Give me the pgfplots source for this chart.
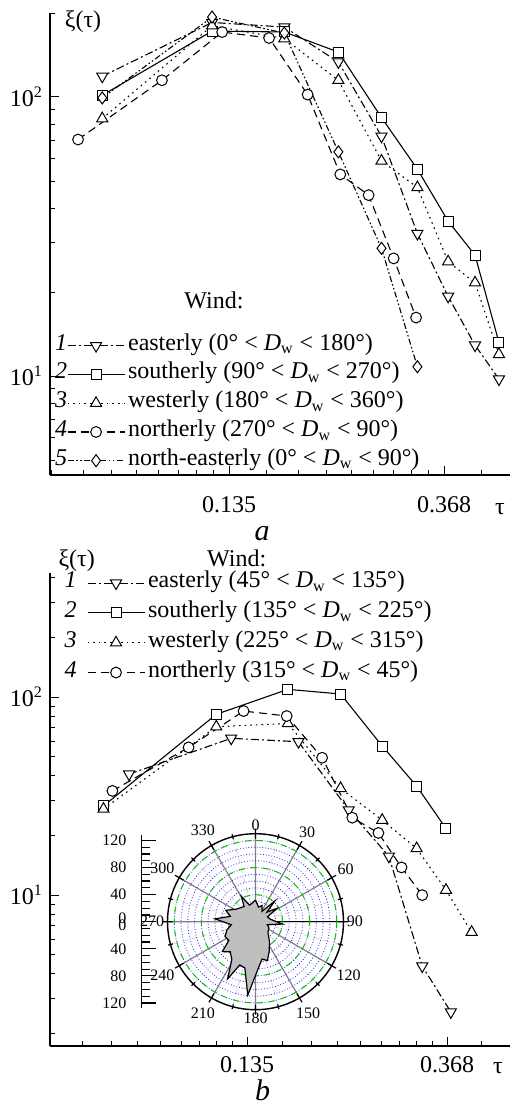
\documentclass[border=0pt]{standalone}
\usepackage{fontspec}
\setmainfont{Liberation Serif}
\usepackage{pgfplots}
\usepackage{pgfplotstable}
\pgfplotsset{compat=1.18}
\usepgfplotslibrary{polar}

\definecolor{rosegray}{RGB}{190,190,190}
\definecolor{ringgreen}{RGB}{0,200,0}
\definecolor{ringblue}{RGB}{30,30,255}

\newcommand\fs{\fontsize{12}{14}\selectfont}
\newcommand\fsmall{\fontsize{8}{9}\selectfont}
\newcommand\Dw{\textit{D}\textsubscript{w}}
\newcommand\zerozero{\raisebox{1.9pt}{0}\llap{\raisebox{-1.9pt}{0}}}

% legend sample: short line with the mark in its middle
\pgfplotsset{
  legend image code/.code={%
    \draw[mark repeat=2, mark phase=2, #1] plot coordinates {(0pt,0pt) (14.25pt,0pt) (28.5pt,0pt)};
  },
}

% open marks: filled white so the lines stop at their outline
\tikzset{
  s1/.style={black, line width=0.55pt, dash pattern=on 4pt off 1.5pt on 1pt off 1.5pt,
    mark=triangle*, mark size=3.2pt, mark options={solid, draw=black, fill=white, rotate=180, line width=0.5pt}},
  s2/.style={black, line width=0.55pt, solid,
    mark=square*, mark size=2.5pt, mark options={solid, draw=black, fill=white, line width=0.5pt}},
  s3/.style={black, line width=0.55pt, dash pattern=on 0.8pt off 2pt,
    mark=triangle*, mark size=3.2pt, mark options={solid, draw=black, fill=white, line width=0.5pt}},
  s4/.style={black, line width=0.55pt, dash pattern=on 4pt off 2.5pt,
    mark=*, mark size=2.7pt, mark options={solid, draw=black, fill=white, line width=0.5pt}},
  s5/.style={black, line width=0.55pt, dash pattern=on 3pt off 1.2pt on 0.8pt off 1.2pt on 0.8pt off 1.2pt,
    mark=diamond*, mark size=3pt, mark options={solid, draw=black, fill=white, line width=0.5pt}},
}

% panel a: tau, xi
\pgfplotstableread{
t xi
0.075 118.6
0.125 185
0.175 178.1
0.225 133.5
0.275 72.3
0.325 32.4
0.375 19.3
0.425 12.9
0.475 9.75
}\aEast
\pgfplotstableread{
t xi
0.075 101.4
0.125 172.3
0.175 171
0.225 144.9
0.275 84.4
0.325 55.1
0.375 35.9
0.425 27.1
0.475 13.2
}\aSouth
\pgfplotstableread{
t xi
0.075 83.7
0.125 180
0.175 161.9
0.225 114.8
0.275 59.0
0.325 47.4
0.375 25.7
0.425 21.6
0.475 11.96
}\aWest
\pgfplotstableread{
t xi
0.067 70.4
0.099 114.8
0.131 170.9
0.163 162.7
0.195 102.0
0.227 52.8
0.259 44.5
0.291 26.4
0.323 16.2
}\aNorth
\pgfplotstableread{
t xi
0.075 99.2
0.125 193.4
0.175 169.5
0.225 63.6
0.275 28.7
0.325 10.8
}\aNorthEast

% panel b
\pgfplotstableread{
t xi
0.075 40.8
0.125 61.9
0.175 59.5
0.225 26.9
0.275 15.7
0.325 4.38
0.375 2.57
}\bEast
\pgfplotstableread{
t xi
0.066 28.2
0.116 81.8
0.166 109.4
0.216 103.6
0.266 56.6
0.316 35.5
0.366 21.7
}\bSouth
\pgfplotstableread{
t xi
0.066 27.2
0.116 70.8
0.166 73.6
0.216 34.6
0.266 23.9
0.316 17.2
0.366 10.6
0.416 6.5
}\bWest
\pgfplotstableread{
t xi
0.069 33.6
0.101 55.7
0.133 85.0
0.165 80.2
0.197 49.4
0.229 24.6
0.261 20.6
0.293 13.8
0.325 10.0
}\bNorth

% wind rose: azimuth (deg, clockwise from north), frequency
\pgfplotstableread{
az r
0 32
12 22
22 26
32 18
43 42
50 22
58 37
68 19
80 22
95 40
104 18
115 22
130 24
145 36
155 48
163 60
170 56
177 70
186 109
193 70
200 68
206 94
212 66
220 58
228 66
235 48
244 50
254 44
263 36
274 60
282 38
291 47
303 34
314 30
323 28
331 43
340 26
350 28
360 32
}\rose

\begin{document}
\begin{tikzpicture}[font=\fs]
\useasboundingbox (0pt,0pt) rectangle (255pt,-552pt);

% ---------------- panel a ----------------
% abscissa: natural logarithm of tau
\begin{axis}[
  at={(25pt,-237.5pt)}, anchor=south west,
  scale only axis, width=230pt, height=231pt,
  ymode=log,
  xmin=-2.8336, xmax=-0.6931, ymin=4.42, ymax=200,
  axis x line*=bottom, axis y line*=left,
  tick align=inside,
  xtick={-2,-1}, xticklabels={0.135,0.368},
  minor xtick={-2.8253,-2.6766,-2.5470,-2.4325,-2.3297,-2.2365,-2.1513,-2.0728,-1.8253,-1.6766,-1.5471,-1.4325,-1.3297,-1.2366,-1.1513,-1.0728,-0.8253},
  ytick={10,100}, yticklabels={10\textsuperscript{1},10\textsuperscript{2}},
  minor ytick={5,6,7,8,9,20,30,40,50,60,70,80,90,200},
  major tick length=4.7pt, minor tick length=2.5pt,
  tick style={black, line width=0.5pt},
  axis line style={line width=0.6pt},
  tick label style={font=\fs},
  xticklabel style={yshift=-7.1pt},
  clip=false,
  legend cell align=left,
  legend style={at={(0.03696,0.3026)}, anchor=north west, draw=none, fill=none,
    inner sep=0pt, outer sep=0pt, row sep=3.875pt, column sep=1.5pt,
    nodes={inner sep=0pt, text height=7.5pt, text depth=3pt}, font=\fs},
]
\addplot[s1] table[x expr={ln(\thisrow{t})}, y=xi] {\aEast};
\addlegendentry{easterly (0° < \Dw{} < 180°)}
\addplot[s2] table[x expr={ln(\thisrow{t})}, y=xi] {\aSouth};
\addlegendentry{southerly (90° < \Dw{} < 270°)}
\addplot[s3] table[x expr={ln(\thisrow{t})}, y=xi] {\aWest};
\addlegendentry{westerly (180° < \Dw{} < 360°)}
\addplot[s4] table[x expr={ln(\thisrow{t})}, y=xi] {\aNorth};
\addlegendentry{northerly (270° < \Dw{} < 90°)}
\addplot[s5] table[x expr={ln(\thisrow{t})}, y=xi] {\aNorthEast};
\addlegendentry{north-easterly (0° < \Dw{} < 90°)}
\end{axis}

\node[anchor=base, inner sep=0pt] at (41.5pt,-13.6pt) {ξ(τ)};
\node[anchor=base, inner sep=0pt] at (107pt,-154.2pt) {Wind:};
\foreach \n/\y in {1/-175.1, 2/-189.475, 3/-203.85, 4/-218.225, 5/-232.6}
  \node[anchor=base east, inner sep=0pt] at (33.8pt,\y pt) {\textit{\n}};
\node[anchor=base, inner sep=0pt] at (250pt,-257pt) {τ};
\node[anchor=base, inner sep=0pt] at (131pt,-270pt) {\fontsize{15}{17}\selectfont\textit{a}};

% ---------------- panel b ----------------
\begin{axis}[
  at={(25pt,-523pt)}, anchor=south west,
  scale only axis, width=230pt, height=236.5pt,
  ymode=log,
  xmin=-2.9857, xmax=-0.6852, ymin=1.73, ymax=423,
  axis x line*=bottom, axis y line*=left,
  tick align=inside,
  xtick={-2,-1}, xticklabels={0.135,0.368},
  minor xtick={-2.8253,-2.6766,-2.5470,-2.4325,-2.3297,-2.2365,-2.1513,-2.0728,-1.8253,-1.6766,-1.5471,-1.4325,-1.3297,-1.2366,-1.1513,-1.0728,-0.8253},
  ytick={10,100}, yticklabels={10\textsuperscript{1},10\textsuperscript{2}},
  minor ytick={2,3,4,5,6,7,8,9,20,30,40,50,60,70,80,90,200,300,400},
  major tick length=4.7pt, minor tick length=2.5pt,
  tick style={black, line width=0.5pt},
  axis line style={line width=0.6pt},
  tick label style={font=\fs},
  xticklabel style={yshift=-1.6pt},
  clip=false,
  legend cell align=left,
  legend style={at={(0.0804,1.0008)}, anchor=north west, draw=none, fill=none,
    inner sep=0pt, outer sep=0pt, row sep=4.4pt, column sep=1.5pt,
    nodes={inner sep=0pt, text height=7.5pt, text depth=3pt}, font=\fs},
]
\addplot[s1] table[x expr={ln(\thisrow{t})}, y=xi] {\bEast};
\addlegendentry{easterly (45° < \Dw{} < 135°)}
\addplot[s2] table[x expr={ln(\thisrow{t})}, y=xi] {\bSouth};
\addlegendentry{southerly (135° < \Dw{} < 225°)}
\addplot[s3] table[x expr={ln(\thisrow{t})}, y=xi] {\bWest};
\addlegendentry{westerly (225° < \Dw{} < 315°)}
\addplot[s4] table[x expr={ln(\thisrow{t})}, y=xi] {\bNorth};
\addlegendentry{northerly (315° < \Dw{} < 45°)}
\end{axis}

\node[anchor=base, inner sep=0pt] at (38.35pt,-283pt) {ξ(τ)};
\node[anchor=base, inner sep=0pt] at (118.35pt,-283pt) {Wind:};
\foreach \n/\y in {1/-293.8, 2/-308.7, 3/-323.6, 4/-338.5}
  \node[anchor=base east, inner sep=0pt] at (38.5pt,\y pt) {\textit{\n}};
\node[anchor=base, inner sep=0pt] at (249pt,-536.7pt) {τ};
\node[anchor=base, inner sep=0pt] at (131.25pt,-550pt) {\fontsize{15}{17}\selectfont\textit{b}};

% ---------------- wind rose inset ----------------
\begin{polaraxis}[
  at={(127.75pt,-460.85pt)}, anchor=center,
  scale only axis, width=88pt, height=88pt,
  xmin=0, xmax=360, ymin=0, ymax=130,
  xtick={0,30,...,330},
  xticklabels={90,60,30,0,330,300,270,240,210,180,150,120},
  minor xtick={15,45,...,345},
  xmajorgrids, xminorgrids,
  major grid style={ringblue, densely dotted, line width=0.4pt},
  major x grid style={gray, solid, line width=0.6pt},
  minor x grid style={black!22, densely dashed, line width=0.3pt},
  ytick={10,20,...,120},
  yticklabels={},
  ytick style={draw=none},
  ymajorgrids,
  extra y ticks={40,80,120},
  extra y tick labels={},
  extra y tick style={grid=major, major grid style={ringgreen, dashed, line width=0.5pt}},
  axis line style={line width=0.7pt},
  tick align=center,
  major tick length=5pt, minor tick length=2.5pt,
  xtick style={black, line width=0.6pt},
  xticklabel style={font=\fsmall, inner sep=4pt},
]
% compass azimuth turned into the counter-clockwise angle from east
\addplot[draw=black, fill=rosegray, line width=0.6pt, mark=none]
  table[x expr={mod(450-\thisrow{az},360)}, y=r] {\rose};
\end{polaraxis}

% radial scale of the rose
\begin{axis}[
  at={(70.85pt,-460.85pt)}, anchor=west,
  scale only axis, width=1pt, height=86.66pt,
  xmin=0, xmax=1, ymin=-128, ymax=128,
  axis x line=none, axis y line*=left,
  ytick={-120,-80,-40,0,40,80,120},
  yticklabels={120,80,40,{\zerozero},40,80,120},
  minor ytick={-110,-100,...,110},
  tick align=inside,
  major tick length=7pt, minor tick length=4pt,
  tick style={black, line width=0.6pt},
  axis line style={line width=0.7pt},
  yticklabel style={font=\fsmall, inner sep=0pt, xshift=-7.5pt},
]
\end{axis}
\end{tikzpicture}
\end{document}
